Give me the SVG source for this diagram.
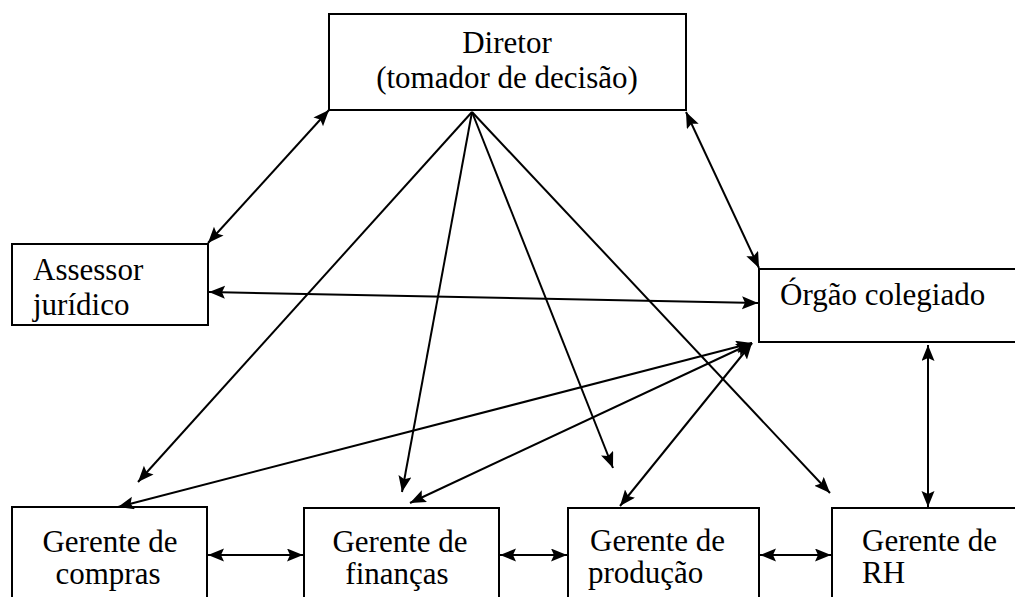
<svg xmlns="http://www.w3.org/2000/svg" width="1015" height="597" viewBox="0 0 1015 597">
<style>
.box{fill:#fff;stroke:#000;stroke-width:2}
.t{font-family:"Liberation Serif","Times New Roman",serif;font-size:31px;fill:#000}
.c{text-anchor:middle}
.ln{stroke:#000;stroke-width:2;fill:none}
.one{marker-end:url(#ah)}
.two{marker-start:url(#ah);marker-end:url(#ah)}
</style>
<defs>
<marker id="ah" markerUnits="userSpaceOnUse" markerWidth="17" markerHeight="14" refX="16" refY="6.5" orient="auto-start-reverse" viewBox="0 0 17 14">
<path d="M0,0 L16,6.5 L0,13 L3,6.5 z" fill="#000"/>
</marker>
</defs>
<rect width="1015" height="597" fill="#fff"/>
<g id="diretor">
<rect class="box" x="329" y="14" width="357" height="96"/>
<text class="t c" x="507" y="53">Diretor</text>
<text class="t c" x="507" y="88">(tomador de decisão)</text>
</g>
<g id="assessor">
<rect class="box" x="12" y="244" width="196" height="81"/>
<text class="t" x="33" y="280">Assessor</text>
<text class="t" x="33" y="315">jurídico</text>
</g>
<g id="orgao">
<rect class="box" x="759" y="269" width="270" height="73"/>
<text class="t" x="780" y="305">Órgão colegiado</text>
</g>
<g id="compras">
<rect class="box" x="12" y="507" width="195" height="110"/>
<text class="t c" x="110" y="552">Gerente de</text>
<text class="t c" x="108" y="584">compras</text>
</g>
<g id="financas">
<rect class="box" x="304" y="508" width="195" height="110"/>
<text class="t c" x="400" y="552">Gerente de</text>
<text class="t c" x="397" y="584">finanças</text>
</g>
<g id="producao">
<rect class="box" x="568" y="508" width="191" height="110"/>
<text class="t" x="590" y="551">Gerente de</text>
<text class="t" x="588" y="583">produção</text>
</g>
<g id="rh">
<rect class="box" x="832" y="508" width="200" height="110"/>
<text class="t" x="862" y="551">Gerente de</text>
<text class="t" x="862" y="583">RH</text>
</g>
<g id="connectors">
<line class="ln two" x1="329" y1="110" x2="208" y2="243"/>
<line class="ln two" x1="686" y1="112" x2="759" y2="268"/>
<line class="ln two" x1="209" y1="292" x2="758" y2="303"/>
<line class="ln one" x1="472" y1="112" x2="138" y2="482"/>
<line class="ln one" x1="472" y1="112" x2="402" y2="492"/>
<line class="ln one" x1="472" y1="112" x2="613" y2="468"/>
<line class="ln one" x1="472" y1="112" x2="830" y2="493"/>
<line class="ln two" x1="752" y1="343" x2="118" y2="507"/>
<line class="ln two" x1="752" y1="343" x2="410" y2="503"/>
<line class="ln two" x1="752" y1="343" x2="620" y2="506"/>
<line class="ln two" x1="928" y1="345" x2="928" y2="507"/>
<line class="ln two" x1="208" y1="555" x2="303" y2="555"/>
<line class="ln two" x1="500" y1="555" x2="567" y2="555"/>
<line class="ln two" x1="760" y1="555" x2="831" y2="555"/>
</g>
</svg>
